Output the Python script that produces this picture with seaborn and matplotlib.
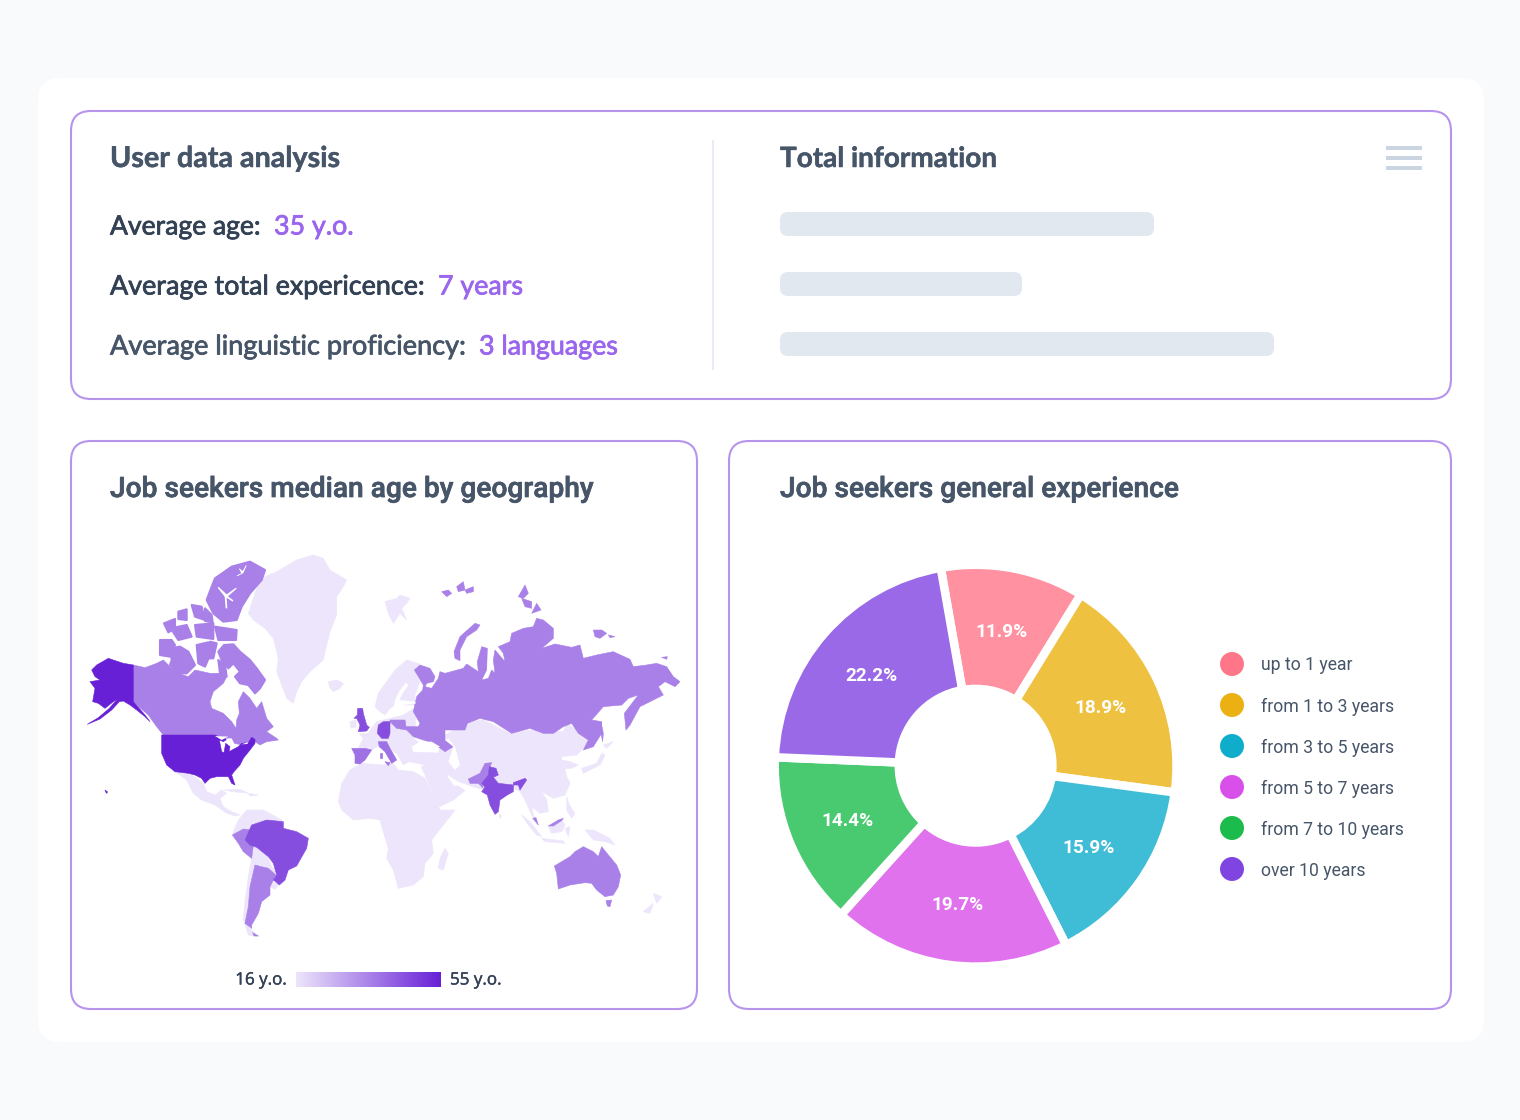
import numpy as np
import matplotlib
matplotlib.use("Agg")
import matplotlib.pyplot as plt
import matplotlib.patheffects as pe
from matplotlib.colors import Normalize, to_rgb
from matplotlib.patches import FancyBboxPatch, Polygon, Rectangle
import seaborn as sns

sns.set_theme(style="white")
plt.rcParams["font.family"] = ["Roboto", "DejaVu Sans"]

# ---------------------------------------------------------------- figures
stat_labels = ["Average age:", "Average total expericence:", "Average linguistic proficiency:"]
stat_values = ["35 y.o.", "7 years", "3 languages"]
info_rows = ["row a", "row b", "row c"]
info_lengths = [374, 242, 494]

experience_labels = ["up to 1 year", "from 1 to 3 years", "from 3 to 5 years",
                     "from 5 to 7 years", "from 7 to 10 years", "over 10 years"]
experience_share = [11.9, 18.9, 15.9, 19.7, 14.4, 22.2]
experience_colors = ["#FF7589", "#EBB112", "#0FADCC", "#D84FEA", "#1BBB4C", "#8044E1"]

age_min, age_max = 16, 55
age_low_color, age_high_color = "#EDE5FB", "#6720D6"


# ---------------------------------------------------------------- outlines
# Coastlines are digitised on regional sheets: each has an origin on the map
# and runs at three sheet units per map unit.
def sheet(origin, pts):
    ox, oy = origin
    return [(ox + x / 3, oy + y / 3) for x, y in pts]


AM = (80, 545)      # North Atlantic and Arctic
EU = (340, 650)     # Europe
RU = (380, 570)     # northern Eurasia
AS = (430, 700)     # southern Asia
PA = (450, 740)     # Oceania
CA = (160, 730)     # Central America
SO = (150, 760)     # South America and Africa

alaska = sheet(AM, [(160,360),(130,355),(85,340),(50,360),(35,375),(45,395),(60,405),(30,410),(45,430),
                    (38,470),(55,475),(75,490),(100,470),(112,462),(88,490),(55,518),(22,538),(60,522),
                    (95,495),(118,470),(130,468),(150,480),(170,495),(195,515),(210,530),(195,510),(160,470)])
canada = sheet(AM, [(160,360),(195,368),(230,355),(250,345),(270,365),(295,385),(325,395),(345,375),(390,385),
                    (420,385),(440,395),(430,415),(400,440),(390,470),(395,490),(430,505),(455,530),(468,550),
                    (470,525),(478,505),(475,470),(490,440),(510,460),(530,490),(545,470),(560,520),(580,545),
                    (560,560),(590,580),(595,585),(560,590),(540,600),(525,590),(510,590),(490,600),(460,595),
                    (430,580),(400,572),(250,570),(230,545),(205,510),(170,480),(160,470)])
baffin = sheet(AM, [(415,320),(432,300),(460,298),(480,320),(510,345),(530,370),(555,405),(540,430),(525,445),
                    (505,420),(480,415),(465,395),(480,380),(460,355),(445,370),(425,345)])
ellesmere = sheet(AM, [(405,100),(455,65),(510,50),(555,75),(545,105),(510,145),(485,185),(470,225),(430,230),
                       (400,205),(380,165),(395,125)])
devon = sheet(AM, [(405,245),(470,255),(468,285),(415,285)])
banks = sheet(AM, [(240,285),(275,285),(285,300),(270,335),(240,330)])
victoria = sheet(AM, [(270,310),(300,305),(325,320),(345,360),(320,385),(295,385),(270,360),(275,345)])
somerset = sheet(AM, [(350,300),(385,292),(390,330),(375,365),(355,355)])
prince_wales = sheet(AM, [(390,290),(410,295),(400,340),(385,340)])
melville_pen = sheet(AM, [(415,345),(435,360),(440,395),(420,385)])
melville = sheet(AM, [(252,235),(285,222),(285,250),(265,262)])
bathurst = sheet(AM, [(272,250),(320,240),(335,275),(295,285)])
ringnes = sheet(AM, [(295,200),(320,193),(320,225),(295,222)])
axel = sheet(AM, [(335,180),(365,185),(375,225),(345,215)])
cornwallis = sheet(AM, [(345,240),(400,235),(400,282),(350,275)])
graham = sheet(AM, [(375,190),(395,210),(398,232),(375,228)])
fjord_a = sheet(AM, [(415,125),(440,148),(468,128),(470,131),(444,154),(460,166),(458,170),(440,158),(442,190),
                     (437,190),(434,155),(413,128)])
fjord_b = sheet(AM, [(498,60),(488,78),(478,70),(477,72),(484,84),(470,92),(472,94),(490,84),(500,62)])
greenland = sheet(AM, [(505,205),(530,130),(555,95),(590,80),(650,45),(700,30),(730,40),(750,75),(800,105),
                       (790,125),(770,155),(770,210),(750,260),(740,300),(730,345),(690,380),(665,410),
                       (650,440),(640,475),(620,460),(605,420),(590,380),(595,340),(580,280),(555,250),(520,225)])
iceland = sheet(AM, [(745,410),(770,405),(790,415),(780,430),(760,440),(748,425)])

europe = sheet(EU, [(55,295),(70,265),(58,252),(85,250),(110,215),(150,205),(190,195),(230,170),(225,235),
                    (220,265),(240,280),(220,295),(215,330),(190,345),(170,310),(150,300),(110,290),(95,300)])
scandinavia = sheet(EU, [(105,170),(115,130),(140,95),(165,60),(200,30),(240,42),(222,60),(240,95),(225,135),
                         (225,165),(190,165),(172,160),(150,175),(135,195),(120,185)])
baltic = sheet(EU, [(198,98),(205,105),(188,130),(178,150),(225,155),(228,160),(190,165),(182,190),(150,198),
                    (160,180),(165,150),(180,120)])
ireland = sheet(EU, [(30,215),(48,210),(48,230),(33,235)])
britain = sheet(EU, [(53,175),(68,175),(70,190),(80,225),(88,232),(80,243),(55,245),(60,225),(50,205),(42,205),(52,195)])
germany = sheet(EU, [(115,225),(130,215),(150,215),(150,250),(145,265),(125,265),(112,250)])
iberia = sheet(EU, [(35,295),(75,295),(95,300),(75,330),(60,342),(45,340),(45,315)])
italy = sheet(EU, [(115,275),(140,275),(150,295),(170,330),(155,340),(135,305),(118,290)])
sicily = sheet(EU, [(135,335),(150,338),(145,347)])
sardinia = sheet(EU, [(120,310),(127,310),(127,325),(120,325)])
black_sea = sheet(EU, [(215,290),(240,275),(275,275),(300,290),(270,305),(240,305),(220,305)])

russia = sheet(RU, [(100,425),(110,380),(128,360),(130,345),(115,320),(103,300),(120,285),(150,295),(165,320),
                    (160,335),(140,340),(135,350),(155,355),(175,325),(180,305),(195,310),(250,295),(260,282),
                    (295,305),(292,275),(305,230),(322,235),(320,300),(305,330),(325,325),(335,300),(345,310),
                    (340,270),(345,240),(375,275),(370,250),(355,230),(390,215),(395,190),(430,175),(460,170),
                    (470,145),(490,150),(520,175),(520,205),(485,235),(525,222),(575,232),(600,225),(610,265),
                    (650,255),(700,245),(750,268),(760,290),(800,285),(830,280),(860,290),(880,320),(900,335),
                    (885,350),(855,335),(835,350),(850,375),(810,395),(780,410),(750,465),(738,480),(733,430),
                    (775,375),(745,385),(725,405),(670,410),(635,450),(665,455),(665,490),(640,530),(610,540),
                    (625,510),(595,490),(575,460),(550,470),(520,490),(490,490),(450,475),(395,490),(340,455),
                    (300,445),(262,460),(255,480),(195,480),(195,510),(220,530),(195,545),(160,520),(130,510),
                    (100,500),(80,480),(50,475),(30,455),(30,450),(75,450),(78,470),(115,470),(120,460)])
sakhalin = sheet(RU, [(663,455),(670,490),(668,515),(663,490)])
novaya = sheet(RU, [(222,245),(240,200),(285,160),(300,165),(290,180),(260,200),(240,240),(240,272),(225,265)])
severnaya_a = sheet(RU, [(415,80),(435,45),(445,70),(430,85)])
severnaya_b = sheet(RU, [(425,85),(455,95),(455,115),(435,110)])
severnaya_c = sheet(RU, [(455,130),(470,100),(483,120)])
siberian_a = sheet(RU, [(640,180),(665,180),(680,190),(660,205),(645,200)])
siberian_b = sheet(RU, [(685,195),(705,200),(690,203)])
wrangel = sheet(RU, [(845,262),(862,260),(860,268)])
franz_a = sheet(RU, [(185,65),(205,60),(215,70),(200,80)])
franz_b = sheet(RU, [(230,50),(250,35),(255,60),(235,65)])
franz_c = sheet(RU, [(255,60),(280,50),(280,65),(260,70)])
svalbard = sheet(RU, [(15,95),(50,85),(60,75),(90,85),(80,100),(65,115),(80,150),(60,130),(40,160),(25,130)])
caspian = sheet(RU, [(195,510),(220,530),(205,575),(225,600),(240,585),(225,530),(205,505)])

asia = sheet(AS, [(-60,156),(24,159),(45,105),(115,65),(160,60),(240,100),(300,90),(400,95),(410,70),(470,110),
                  (475,125),(455,150),(440,165),(395,170),(395,180),(420,185),(445,195),(425,205),(405,205),
                  (410,230),(420,250),(405,285),(370,295),(335,275),(350,300),(355,335),(330,340),(305,320),
                  (310,345),(325,375),(305,345),(285,300),(270,275),(250,265),(160,270),(115,255),(85,245),
                  (55,225),(50,228),(72,258),(85,258),(105,272),(70,300),(25,322),(-15,225),(-27,200),(-15,195),(-60,186)])
india = sheet(AS, [(155,250),(175,225),(178,200),(198,205),(205,225),(190,232),(205,250),(250,255),(250,275),
                   (232,285),(210,300),(205,335),(195,343),(180,315),(172,285),(155,275),(165,262)])
assam = sheet(AS, [(250,248),(285,235),(290,240),(270,270),(265,255),(250,255)])
pakistan = sheet(AS, [(115,237),(150,220),(165,190),(185,188),(180,200),(175,225),(155,250),(160,265),(145,250),(120,250)])

sumatra = sheet(PA, [(215,225),(240,245),(275,290),(260,285),(235,255)])
java = sheet(PA, [(275,295),(340,303),(345,310),(285,305)])
borneo = sheet(PA, [(295,260),(335,240),(345,255),(335,275),(305,280)])
sarawak = sheet(PA, [(295,258),(325,240),(340,235),(335,242),(310,258)])
malaya = sheet(PA, [(248,235),(258,233),(265,255)])
sulawesi = sheet(PA, [(345,265),(360,260),(355,290)])
philippines = sheet(PA, [(350,170),(358,195),(375,220),(365,235),(350,210)])
new_guinea = sheet(PA, [(405,270),(430,270),(480,295),(495,315),(465,305),(430,300)])
honshu = sheet(PA, [(395,85),(440,70),(455,40),(465,45),(450,75),(400,100)])
hokkaido = sheet(PA, [(460,15),(490,5),(470,25)])
sri_lanka = sheet(PA, [(148,222),(155,228),(150,235)])
australia = sheet(PA, [(313,378),(360,350),(375,335),(400,320),(430,335),(445,350),(455,320),(475,345),(500,375),
                       (512,405),(505,440),(490,465),(465,470),(440,450),(425,430),(405,428),(360,435),(325,447),(320,400)])
tasmania = sheet(PA, [(468,482),(485,480),(480,500),(472,498)])
nz_north = sheet(PA, [(610,460),(635,470),(620,490)])
nz_south = sheet(PA, [(580,515),(610,490),(600,520)])

usa = sheet(CA, [(5,15),(165,15),(180,22),(205,25),(190,35),(178,30),(185,65),(192,68),(197,40),(210,50),(207,65),
                 (235,50),(245,40),(265,38),(275,22),(285,28),(285,40),(270,60),(250,85),(240,105),(222,125),(215,135),
                 (225,165),(215,160),(205,140),(170,140),(150,145),(135,160),(125,145),(105,135),(85,130),(45,125),
                 (20,105),(5,70)])
superior = sheet(CA, [(165,18),(205,20),(185,30)])
huron = sheet(CA, [(197,25),(215,25),(225,45),(205,40)])
ontario = sheet(CA, [(245,43),(265,36),(262,42)])
mexico = sheet(CA, [(40,125),(95,135),(130,160),(140,185),(165,195),(185,180),(200,190),(180,205),(190,230),(215,245),
                    (240,255),(225,258),(200,250),(165,225),(125,210),(100,190),(80,150),(60,135)])
cuba = sheet(CA, [(190,180),(240,178),(265,190),(220,185)])
hispaniola = sheet(CA, [(265,190),(295,195),(270,198)])
hawaii = sheet(CA, [(-165,180),(-157,186),(-161,190)])

andes_north = sheet(SO, [(248,220),(265,180),(290,150),(340,150),(395,180),(395,200),(350,190),(320,195),(300,210),(280,215),(262,225)])
peru = sheet(SO, [(247,225),(280,207),(305,210),(285,240),(310,255),(305,295),(280,275),(265,250)])
brazil = sheet(SO, [(285,240),(305,195),(350,180),(400,185),(400,205),(440,215),(475,235),(470,265),(450,300),(440,318),
                    (415,330),(405,360),(388,375),(370,360),(380,345),(370,310),(355,290),(320,262),(300,255)])
bolivia = sheet(SO, [(305,295),(310,255),(350,285),(365,320),(380,340),(360,330),(330,315),(310,320)])
uruguay = sheet(SO, [(365,365),(385,375),(375,388),(360,380)])
argentina = sheet(SO, [(315,315),(355,325),(378,345),(360,380),(360,405),(335,425),(325,460),(305,495),(305,505),(285,490),(295,440),(300,380)])
fuego = sheet(SO, [(308,518),(325,528),(312,528)])
chile = sheet(SO, [(305,295),(315,320),(300,380),(295,440),(285,490),(305,510),(325,530),(295,525),(280,480),(285,420),(295,350)])
africa = sheet(SO, [(565,125),(575,70),(600,30),(635,10),(700,15),(725,5),(745,30),(790,35),(825,55),(860,130),(870,150),
                    (915,150),(900,170),(860,220),(845,240),(850,280),(825,310),(820,350),(790,375),(745,385),(730,330),
                    (710,295),(715,265),(695,200),(690,180),(660,175),(610,180),(575,150)])
madagascar = sheet(SO, [(885,265),(895,280),(880,330),(865,325),(870,295)])

arctic_islands = [baffin, ellesmere, devon, banks, victoria, somerset, prince_wales, melville_pen, melville,
                  bathurst, ringnes, axel, cornwallis, graham]

# Median age per group of territories, drawn lowest layer first; the third
# entry widens small island outlines.
age_groups = [
    (16, [greenland, iceland, svalbard, europe, scandinavia, ireland, asia, africa, madagascar, mexico, cuba,
          hispaniola, andes_north, bolivia, uruguay, chile, sumatra, java, borneo, sulawesi, philippines,
          new_guinea, honshu, hokkaido, sri_lanka, nz_north, nz_south], 0.4),
    (36, arctic_islands, 1.5),
    (36, [canada, russia, sakhalin, novaya, severnaya_a, severnaya_b, severnaya_c,
          siberian_a, siberian_b, wrangel, franz_a, franz_b, franz_c, pakistan, peru, argentina, fuego, australia,
          tasmania, sarawak, malaya], 0.4),
    (39, [iberia, italy, sicily, sardinia], 0.4),
    (46, [britain, germany, india, assam, brazil], 0.4),
    (55, [usa, alaska, hawaii], 0.4),
]
water_bodies = [baltic, black_sea, caspian, superior, huron, ontario, fjord_a, fjord_b]

# ---------------------------------------------------------------- canvas
fig = plt.figure(figsize=(15.2, 11.2), dpi=100, facecolor="#F8FAFC")
W, H = 1520, 1120
ax = fig.add_axes([0, 0, 1, 1])
ax.set_xlim(0, W)
ax.set_ylim(H, 0)
ax.axis("off")


def px_axes(x0, y0, x1, y1):
    a = fig.add_axes([x0 / W, 1 - y1 / H, (x1 - x0) / W, (y1 - y0) / H])
    a.axis("off")
    a.patch.set_alpha(0)
    return a


def card(x0, y0, x1, y1, radius, face="white", edge="none", lw=0):
    ax.add_patch(FancyBboxPatch((x0, y0), x1 - x0, y1 - y0,
                                boxstyle=f"round,pad=0,rounding_size={radius}",
                                facecolor=face, edgecolor=edge, linewidth=lw))


def label(x, y, s, px, color, family, weight="normal", ha="left", thicken=0.0):
    t = ax.text(x, y, s, fontsize=px * 0.72, color=color, family=family,
                fontweight=weight, ha=ha, va="center_baseline")
    if thicken:
        t.set_path_effects([pe.withStroke(linewidth=thicken, foreground=color)])
    return t


card(38, 78, 1484, 1042, 22)
border = "#B794EC"
card(71, 111, 1451, 399, 20, edge=border, lw=1.5)
card(71, 441, 697, 1009, 20, edge=border, lw=1.5)
card(729, 441, 1451, 1009, 20, edge=border, lw=1.5)
ax.plot([713, 713], [140, 370], color="#EDE9F8", lw=1.5, solid_capstyle="butt")

# ---------------------------------------------------------------- summary panel
head_font = ["Lato", "DejaVu Sans"]
ink_dark, ink_mid, accent = "#334155", "#475569", "#9B66EE"
label(110, 156.5, "User data analysis", 28.7, ink_mid, head_font, "bold", thicken=0.35)
label(780, 156.5, "Total information", 27.9, ink_mid, head_font, "bold", thicken=0.35)

stat_rows = [(225, 274, ink_dark, 26.5), (285, 438, ink_dark, 26.9), (345, 479, ink_mid, 27.1)]
for (y, vx, ink, size), name, val in zip(stat_rows, stat_labels, stat_values):
    label(110, y - 0.5, name, size, ink, head_font, thicken=0.55)
    label(vx, y - 0.5, val, 26.8, accent, head_font, thicken=0.55)

for y in (146, 156, 166):
    ax.add_patch(Rectangle((1386, y), 36, 4, facecolor="#CBD5E1", edgecolor="none"))

bar_ax = px_axes(780, 212, 1420, 356)
sns.barplot(x=info_lengths, y=info_rows, orient="h", width=0.4, color="#E2E8F0", ax=bar_ax)
bar_ax.set_xlim(0, 640)
bar_ax.set_ylim(2.2, -0.2)
bar_ax.axis("off")
for bar in list(bar_ax.patches):
    bx, by, bw, bh = bar.get_x(), bar.get_y(), bar.get_width(), bar.get_height()
    bar.remove()
    bar_ax.add_patch(FancyBboxPatch((bx, by), bw, bh, boxstyle="round,pad=0,rounding_size=8",
                                    mutation_aspect=1 / 60, facecolor="#E2E8F0", edgecolor="none"))

# ---------------------------------------------------------------- choropleth
title_font = ["Roboto", "DejaVu Sans"]
label(110, 486.5, "Job seekers median age by geography", 28.1, ink_mid, title_font, "medium", thicken=0.5)
label(780, 486.5, "Job seekers general experience", 28.1, ink_mid, title_font, "medium", thicken=0.5)

age_cmap = sns.blend_palette([age_low_color, age_high_color], as_cmap=True)
age_norm = Normalize(age_min, age_max)
for age, shapes, grow in age_groups:
    for outline in shapes:
        shade = age_cmap(age_norm(age))
        ax.add_patch(Polygon(outline, closed=True, facecolor=shade, edgecolor=shade,
                             linewidth=grow, joinstyle="round"))
for outline in water_bodies:
    ax.add_patch(Polygon(outline, closed=True, facecolor="white", edgecolor="none"))

scale_ax = px_axes(296, 972, 441, 987)
scale_ax.imshow(np.linspace(age_min, age_max, 256)[None, :], cmap=age_cmap, norm=age_norm, aspect="auto")
scale_font = ["Open Sans", "DejaVu Sans"]
label(287, 978.5, f"{age_min} y.o.", 17, ink_dark, scale_font, ha="right", thicken=0.3)
label(450, 978.5, f"{age_max} y.o.", 17, ink_dark, scale_font, thicken=0.3)

# ---------------------------------------------------------------- donut
cx, cy, outer, hole = 975.6, 765.7, 200.9, 76.8
pie_ax = px_axes(cx - outer, cy - outer, cx + outer, cy + outer)
soft = [tuple(0.8 * np.array(to_rgb(c)) + 0.2) for c in experience_colors]
wedges, _ = pie_ax.pie(experience_share, colors=soft, startangle=100, counterclock=False, radius=1,
                       wedgeprops=dict(width=1 - hole / outer, edgecolor="white", linewidth=6.1))
pie_ax.set_xlim(-1, 1)
pie_ax.set_ylim(-1, 1)
pie_ax.set_aspect("auto")
for wedge, share in zip(wedges, experience_share):
    mid = np.deg2rad((wedge.theta1 + wedge.theta2) / 2)
    pie_ax.text(0.69 * np.cos(mid), 0.69 * np.sin(mid), f"{share}%", color="white", family=title_font,
                fontsize=19 * 0.72, fontweight="bold", ha="center", va="center_baseline")

legend_ys = [664, 705, 746, 787, 828, 869]
sns.scatterplot(x=[1232] * 6, y=legend_ys, hue=experience_labels, hue_order=experience_labels,
                palette=experience_colors, s=298, linewidth=0, legend=False, ax=ax)
ax.set_xlim(0, W)
ax.set_ylim(H, 0)
for y, name in zip(legend_ys, experience_labels):
    label(1261, y - 0.5, name, 17.6, ink_mid, title_font)

fig.savefig("out.png", dpi=100, facecolor=fig.get_facecolor())
